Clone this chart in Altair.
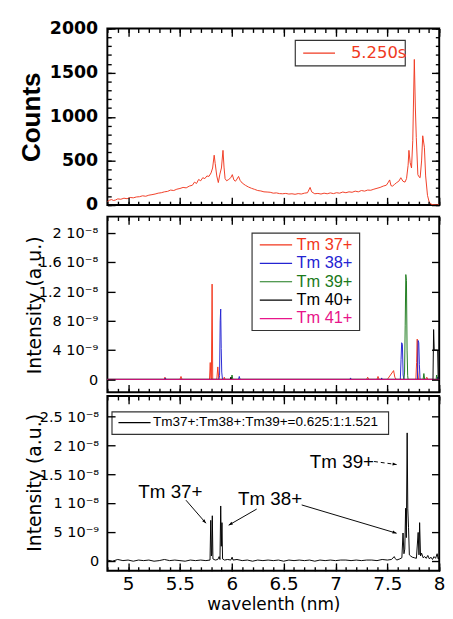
import math
import altair as alt
import pandas as pd

# ---------------- data ----------------
x_domain = [4.8, 8.0]

# top panel: measured spectrum (Counts)
top_wl = [4.80, 4.82, 4.84, 4.86, 4.88, 4.90, 4.93, 4.96, 4.99, 5.02,
          5.05, 5.08, 5.11, 5.14, 5.17, 5.20, 5.23, 5.26, 5.29, 5.32,
          5.35, 5.38, 5.41, 5.44, 5.47, 5.50, 5.53, 5.56, 5.59, 5.62,
          5.64, 5.66, 5.68, 5.70, 5.72, 5.74, 5.76, 5.78, 5.80, 5.815,
          5.83, 5.84, 5.855, 5.87, 5.885, 5.90, 5.915, 5.925, 5.935, 5.95,
          5.97, 5.99, 6.005, 6.02, 6.035, 6.05, 6.065, 6.08, 6.10, 6.13,
          6.16, 6.19, 6.22, 6.25, 6.28, 6.31, 6.34, 6.37, 6.40, 6.43,
          6.46, 6.49, 6.52, 6.55, 6.58, 6.61, 6.64, 6.67, 6.70, 6.73,
          6.755, 6.77, 6.80, 6.83, 6.86, 6.89, 6.92, 6.95, 6.98, 7.01,
          7.04, 7.07, 7.10, 7.13, 7.16, 7.19, 7.22, 7.25, 7.28, 7.31,
          7.34, 7.37, 7.40, 7.43, 7.46, 7.49, 7.51, 7.522, 7.535, 7.55,
          7.57, 7.59, 7.61, 7.63, 7.65, 7.67, 7.685, 7.70, 7.708, 7.72,
          7.733, 7.745, 7.760, 7.770, 7.779, 7.794, 7.805, 7.816, 7.83, 7.841,
          7.857, 7.869, 7.887, 7.903, 7.918, 7.94, 7.97, 8.0]
top_counts = [40, 55, 62, 52, 58, 70, 66, 78, 72, 86,
              82, 92, 95, 105, 100, 112, 118, 125, 135, 140,
              150, 155, 170, 165, 180, 188, 200, 195, 215, 225,
              260, 245, 290, 275, 310, 300, 330, 325, 365, 420,
              565, 470, 330, 255, 350, 420, 620, 430, 300, 275,
              290, 310, 345, 285, 270, 295, 325, 280, 250, 225,
              205, 190, 178, 165, 160, 150, 148, 145, 135, 138,
              130, 128, 132, 125, 128, 122, 130, 125, 135, 140,
              200, 150, 128, 132, 125, 135, 128, 138, 130, 140,
              135, 148, 140, 150, 145, 158, 150, 165, 158, 170,
              168, 180, 190, 200, 215, 225, 260, 285, 220, 215,
              235, 255, 270, 310, 270, 260, 300, 450, 620, 480,
              420, 730, 1650, 1100, 765, 345, 320, 310, 500, 785,
              655, 330, 110, 36, 12, 5, 3, 5]
top_legend_label = "5.250s"
top_color = "#f03a22"

# middle panel: calculated lines, intensity in units of 1e-9 (a.u.)
ion_labels = ["Tm 37+", "Tm 38+", "Tm 39+", "Tm 40+", "Tm 41+"]
ion_colors = ["#f2361c", "#2424d2", "#1b7a1b", "#000000", "#e8158a"]

tm37_wl = [4.80, 5.35, 5.355, 5.36, 5.50, 5.51, 5.52, 5.785, 5.792, 5.798,
           5.803, 5.810, 5.816, 5.855, 5.865, 5.875, 5.92, 5.928, 5.935, 7.30,
           7.31, 7.32, 7.40, 7.41, 7.42, 7.50, 7.53, 7.56, 7.572, 7.585,
           7.775, 7.782, 7.788, 7.793, 7.80, 7.87, 7.88, 7.89, 8.0]
tm37_int = [0, 0, 0.3, 0, 0, 0.4, 0, 0, 2.3, 0.2,
            0, 13.0, 0, 0, 1.7, 0, 0, 0.3, 0, 0,
            0.3, 0, 0, 0.4, 0, 0, 0.6, 1.2, 0.3, 0,
            0, 2.3, 5.5, 1.2, 0, 0, 0.3, 0, 0]

tm38_wl = [4.80, 5.355, 5.36, 5.365, 5.875, 5.882, 5.888, 5.893, 5.898, 5.903,
           5.910, 6.065, 6.072, 6.08, 7.14, 7.145, 7.15, 7.44, 7.445, 7.45,
           7.625, 7.632, 7.638, 7.645, 7.652, 7.66, 7.79, 7.797, 7.803, 7.809,
           7.815, 7.98, 7.985, 7.99, 8.0]
tm38_int = [0, 0, 0.2, 0, 0, 0.5, 8.0, 9.6, 4.2, 1.0,
            0, 0, 0.4, 0, 0, 0.2, 0, 0, 0.2, 0,
            0, 2.7, 5.0, 4.8, 0.6, 0, 0, 5.3, 5.0, 2.0,
            0, 0, 0.3, 0, 0]

tm39_wl = [4.80, 5.995, 6.002, 6.01, 7.660, 7.666, 7.672, 7.678, 7.684, 7.690,
           7.696, 7.70, 7.845, 7.852, 7.86, 7.97, 7.975, 7.98, 8.0]
tm39_int = [0, 0, 0.6, 0, 0, 1.0, 7.3, 14.3, 13.5, 4.0,
            0.5, 0, 0, 0.8, 0, 0, 0.6, 0, 0]

tm40_wl = [4.80, 5.985, 5.99, 5.995, 7.94, 7.946, 7.952, 7.985, 7.99, 8.0]
tm40_int = [0, 0, 0.3, 0, 0, 6.8, 4.0, 4.0, 0, 0]

tm41_wl = [4.80, 8.0]
tm41_int = [0, 0]

# bottom panel: synthetic spectrum, intensity in units of 1e-9 (a.u.)
bot_wl = [4.80, 4.85, 4.90, 4.95, 5.00, 5.05, 5.10, 5.15, 5.20, 5.25,
          5.30, 5.35, 5.40, 5.45, 5.50, 5.55, 5.60, 5.65, 5.70, 5.75,
          5.79, 5.797, 5.803, 5.807, 5.812, 5.818, 5.84, 5.865, 5.878, 5.886,
          5.893, 5.899, 5.905, 5.911, 5.93, 5.96, 5.99, 6.003, 6.012, 6.05,
          6.10, 6.15, 6.20, 6.25, 6.30, 6.35, 6.40, 6.45, 6.50, 6.55,
          6.60, 6.65, 6.70, 6.75, 6.80, 6.85, 6.90, 6.95, 7.00, 7.05,
          7.10, 7.15, 7.20, 7.25, 7.30, 7.35, 7.40, 7.45, 7.50, 7.54,
          7.566, 7.575, 7.59, 7.62, 7.64, 7.651, 7.66, 7.668, 7.676, 7.683,
          7.691, 7.697, 7.704, 7.712, 7.725, 7.74, 7.76, 7.78, 7.797, 7.805,
          7.811, 7.82, 7.83, 7.845, 7.86, 7.875, 7.89, 7.905, 7.92, 7.935,
          7.95, 7.965, 7.98, 7.99, 8.0]
bot_int = [0.1, -0.1, 0.2, 0.0, 0.1, -0.1, 0.1, 0.0, 0.1, -0.1,
           0.0, 0.2, 0.0, 0.1, 0.0, -0.1, 0.1, 0.0, 0.1, 0.0,
           0.1, 7.0, 0.8, 1.2, 7.8, 0.3, 0.1, 0.2, 0.7, 0.2,
           9.5, 2.5, 6.6, 0.3, 0.1, 0.2, 0.1, 0.6, 0.1, 0.2,
           0.0, 0.1, -0.1, 0.1, 0.0, 0.1, 0.0, 0.1, -0.1, 0.1,
           0.0, 0.1, 0.0, 0.1, -0.1, 0.1, 0.0, 0.1, 0.0, 0.1,
           0.1, 0.0, 0.1, 0.0, 0.1, 0.1, 0.0, 0.2, 0.1, 0.2,
           0.7, 0.4, 0.1, 0.3, 0.5, 4.8, 1.2, 2.0, 9.1, 4.0,
           22.2, 9.0, 5.8, 1.0, 0.8, 0.6, 0.5, 0.4, 4.9, 1.0,
           6.6, 0.8, 1.3, 0.5, 0.7, 0.4, 0.9, 0.3, 0.6, 0.2,
           0.7, 0.4, 1.2, 0.3, 0.6]
bot_legend_label = "Tm37+:Tm38+:Tm39+=0.625:1:1.521"

annot_labels = ["Tm 37+", "Tm 38+", "Tm 39+"]
annot_x = [5.408, 6.369, 7.062]
annot_y = [11.9, 10.65, 17.1]
arrow_x = [5.558, 6.240, 6.674, 7.372]
arrow_y = [10.5, 8.96, 9.68, 17.23]
arrow_x2 = [5.751, 5.970, 7.589, 7.589]
arrow_y2 = [6.5, 6.16, 4.76, 16.7]
arrow_dashed = [False, False, False, True]

# axis ticks
x_major = [5.0, 5.5, 6.0, 6.5, 7.0, 7.5, 8.0]
x_minor = [round(4.8 + 0.1 * i, 1) for i in range(33)]
top_major = [0, 500, 1000, 1500, 2000]
top_minor = list(range(0, 2001, 100))
mid_ticks = [0, 4, 8, 12, 16, 20]
mid_tick_labels = ["0", "4 10⁻⁹", "8 10⁻⁹", "1.2 10⁻⁸", "1.6 10⁻⁸", "2 10⁻⁸"]
bot_ticks = [0, 5, 10, 15, 20, 25]
bot_tick_labels = ["0", "5 10⁻⁹", "1 10⁻⁸", "1.5 10⁻⁸", "2 10⁻⁸", "2.5 10⁻⁸"]

# ---------------- layout ----------------
W = 344
H_TOP, H_MID, H_BOT = 183, 182, 181
top_ydom = [0, 2000]
mid_ydom = [-1.75, 22.2]
bot_ydom = [-1.75, 28.6]
NUM_FONT = "DejaVu Sans"
TXT_FONT = "Liberation Sans"
MAJ, MIN = 8, 4


def label_expr(values, labels):
    expr = "''"
    for v, l in reversed(list(zip(values, labels))):
        expr = f"(abs(datum.value - ({v})) < 1e-6) ? '{l}' : ({expr})"
    return expr


def tick_axis(orient, values, size, **kw):
    base = dict(orient=orient, values=values, tickSize=size, offset=-size,
                domain=False, grid=False, ticks=True, tickColor="black",
                tickWidth=1.4, zindex=2, labelColor="black", titleColor="black")
    if "labels" not in kw:
        kw["labels"] = False
    if "title" not in kw:
        kw["title"] = None
    base.update(kw)
    return alt.Axis(**base)


def axis_layers(df, xs, ys, y_major, y_minor, left_kw, bottom_kw):
    def dummy(xax, yax):
        return alt.Chart(df).mark_point(opacity=0).encode(
            x=alt.X("x:Q", scale=xs, axis=xax),
            y=alt.Y("y:Q", scale=ys, axis=yax))
    a = dummy(tick_axis("bottom", x_major, MAJ, **bottom_kw),
              tick_axis("left", y_major, MAJ, **left_kw))
    b = dummy(tick_axis("bottom", x_minor, MIN),
              tick_axis("left", y_minor, MIN) if y_minor else None)
    c = dummy(tick_axis("top", x_major, MAJ),
              tick_axis("right", y_major, MAJ))
    d = dummy(tick_axis("top", x_minor, MIN),
              tick_axis("right", y_minor, MIN) if y_minor else None)
    return [a, b, c, d]


one_row = pd.DataFrame({"k": [0]})


def legend_box(x1, x2, y1, y2):
    return alt.Chart(one_row).mark_rect(fill="white", stroke="#333333", strokeWidth=1.2).encode(
        x=alt.value(x1), x2=alt.value(x2), y=alt.value(y1), y2=alt.value(y2))


def legend_entry(lx1, lx2, tx, yy, label, color, font, size, text_color=None):
    line = alt.Chart(one_row).mark_rule(color=color, strokeWidth=1.2).encode(
        x=alt.value(lx1), x2=alt.value(lx2), y=alt.value(yy))
    text = alt.Chart(one_row).mark_text(align="left", baseline="middle", font=font,
                                        fontSize=size, color=text_color or color).encode(
        x=alt.value(tx), y=alt.value(yy), text=alt.value(label))
    return [line, text]


# ---------------- top panel ----------------
xs_t = alt.Scale(domain=x_domain, nice=False, zero=False)
ys_t = alt.Scale(domain=top_ydom, nice=False, zero=False)
top_df = pd.DataFrame({"x": top_wl, "y": top_counts})
top_line = alt.Chart(top_df).mark_line(color=top_color, strokeWidth=1).encode(
    x=alt.X("x:Q", scale=xs_t, axis=None), y=alt.Y("y:Q", scale=ys_t, axis=None))
top_layers = [top_line, legend_box(194.8, 308.8, 12.3, 38.7)]
top_layers += legend_entry(203, 236, 252.5, 25.5, top_legend_label, top_color, NUM_FONT, 17)
top_layers += axis_layers(
    top_df, xs_t, ys_t, top_major, top_minor,
    dict(labels=True, format="d", labelFont=NUM_FONT, labelFontSize=18, labelFontWeight="bold",
         labelPadding=10, labelOverlap=False,
         title="Counts", titleFont=TXT_FONT, titleFontSize=27, titleFontWeight="bold",
         titleX=-86.5, titleY=H_TOP / 2, titleBaseline="middle", titleAlign="center", titleAngle=-90),
    dict())
top_panel = alt.layer(*top_layers).resolve_axis(x="independent", y="independent").properties(
    width=W, height=H_TOP)

# ---------------- middle panel ----------------
xs_m = alt.Scale(domain=x_domain, nice=False, zero=False)
ys_m = alt.Scale(domain=mid_ydom, nice=False, zero=False)
mid_series = [(tm37_wl, tm37_int), (tm38_wl, tm38_int), (tm39_wl, tm39_int),
              (tm40_wl, tm40_int), (tm41_wl, tm41_int)]
rows = []
for lab, (wl, iv) in zip(ion_labels, mid_series):
    for a, b in zip(wl, iv):
        rows.append({"x": a, "y": b, "ion": lab})
mid_df = pd.DataFrame(rows)
mid_lines = alt.Chart(mid_df).mark_line(strokeWidth=1).encode(
    x=alt.X("x:Q", scale=xs_m, axis=None), y=alt.Y("y:Q", scale=ys_m, axis=None),
    color=alt.Color("ion:N", scale=alt.Scale(domain=ion_labels, range=ion_colors), legend=None))
mid_layers = [mid_lines, legend_box(150, 261.5, 17, 118)]
for i, (lab, col) in enumerate(zip(ion_labels, ion_colors)):
    mid_layers += legend_entry(158, 191.5, 196, 29.3 + 19.1 * i, lab, col, TXT_FONT, 17)
mid_layers += axis_layers(
    mid_df, xs_m, ys_m, mid_ticks, None,
    dict(labels=True, labelExpr=label_expr(mid_ticks, mid_tick_labels), labelFont=NUM_FONT,
         labelFontSize=15, labelPadding=10, labelOverlap=False,
         title="Intensity (a.u.)", titleFont=NUM_FONT, titleFontSize=19.5, titleFontWeight="normal",
         titleX=-83, titleY=91.5, titleBaseline="middle", titleAlign="center", titleAngle=-90),
    dict())
mid_panel = alt.layer(*mid_layers).resolve_axis(x="independent", y="independent").properties(
    width=W, height=H_MID)

# ---------------- bottom panel ----------------
xs_b = alt.Scale(domain=x_domain, nice=False, zero=False)
ys_b = alt.Scale(domain=bot_ydom, nice=False, zero=False)
bot_df = pd.DataFrame({"x": bot_wl, "y": bot_int})
bot_line = alt.Chart(bot_df).mark_line(color="black", strokeWidth=1).encode(
    x=alt.X("x:Q", scale=xs_b, axis=None), y=alt.Y("y:Q", scale=ys_b, axis=None))

px_per_x = W / (x_domain[1] - x_domain[0])
px_per_y = H_BOT / (bot_ydom[1] - bot_ydom[0])
angles = []
for x1, y1, x2, y2 in zip(arrow_x, arrow_y, arrow_x2, arrow_y2):
    dx = (x2 - x1) * px_per_x
    dy = -(y2 - y1) * px_per_y
    angles.append(math.degrees(math.atan2(dx, -dy)) % 360)
arrow_df = pd.DataFrame({"x": arrow_x, "y": arrow_y, "x2": arrow_x2, "y2": arrow_y2,
                         "dashed": arrow_dashed, "ang": angles})
solid_df = arrow_df[~arrow_df["dashed"]]
dash_df = arrow_df[arrow_df["dashed"]]
solid_rules = alt.Chart(solid_df).mark_rule(color="black", strokeWidth=1).encode(
    x=alt.X("x:Q", scale=xs_b, axis=None), y=alt.Y("y:Q", scale=ys_b, axis=None),
    x2="x2:Q", y2="y2:Q")
dash_rules = alt.Chart(dash_df).mark_rule(color="black", strokeWidth=1, strokeDash=[4, 3]).encode(
    x=alt.X("x:Q", scale=xs_b, axis=None), y=alt.Y("y:Q", scale=ys_b, axis=None),
    x2="x2:Q", y2="y2:Q")
heads = alt.Chart(arrow_df).mark_point(shape="M0,0 L-0.38,1 L0.38,1 Z", filled=True,
                                       color="black", opacity=1, size=70).encode(
    x=alt.X("x2:Q", scale=xs_b, axis=None), y=alt.Y("y2:Q", scale=ys_b, axis=None),
    angle=alt.Angle("ang:Q", scale=None))
annot_df = pd.DataFrame({"x": annot_x, "y": annot_y, "label": annot_labels})
annots = alt.Chart(annot_df).mark_text(font=TXT_FONT, fontSize=19.5, color="black",
                                       align="center", baseline="middle").encode(
    x=alt.X("x:Q", scale=xs_b, axis=None), y=alt.Y("y:Q", scale=ys_b, axis=None), text="label:N")

bot_layers = [bot_line, solid_rules, dash_rules, heads, annots, legend_box(4.8, 291.5, 16.3, 39.7)]
bot_layers += legend_entry(11.5, 44.8, 47.2, 27.5, bot_legend_label, "black", TXT_FONT, 14)
bot_layers += axis_layers(
    bot_df, xs_b, ys_b, bot_ticks, None,
    dict(labels=True, labelExpr=label_expr(bot_ticks, bot_tick_labels), labelFont=NUM_FONT,
         labelFontSize=15, labelPadding=9, labelOverlap=False,
         title="Intensity (a.u.)", titleFont=NUM_FONT, titleFontSize=19.5, titleFontWeight="normal",
         titleX=-83, titleY=89.5, titleBaseline="middle", titleAlign="center", titleAngle=-90),
    dict(labels=True, format="~g", labelFont=NUM_FONT, labelFontSize=19, labelPadding=4,
         labelFlush=False, labelOverlap=False,
         title="wavelenth (nm)", titleFont=NUM_FONT, titleFontSize=17.5, titleFontWeight="normal",
         titleY=43, titleBaseline="middle"))
bot_panel = alt.layer(*bot_layers).resolve_axis(x="independent", y="independent").properties(
    width=W, height=H_BOT)

chart = alt.vconcat(top_panel, mid_panel, bot_panel, spacing=0).properties(
    padding={"left": 9, "top": 0, "right": -2, "bottom": 0}
).configure_view(stroke="black", strokeWidth=2)

chart.save("out.html", embed_options={"renderer": "svg", "actions": False})
